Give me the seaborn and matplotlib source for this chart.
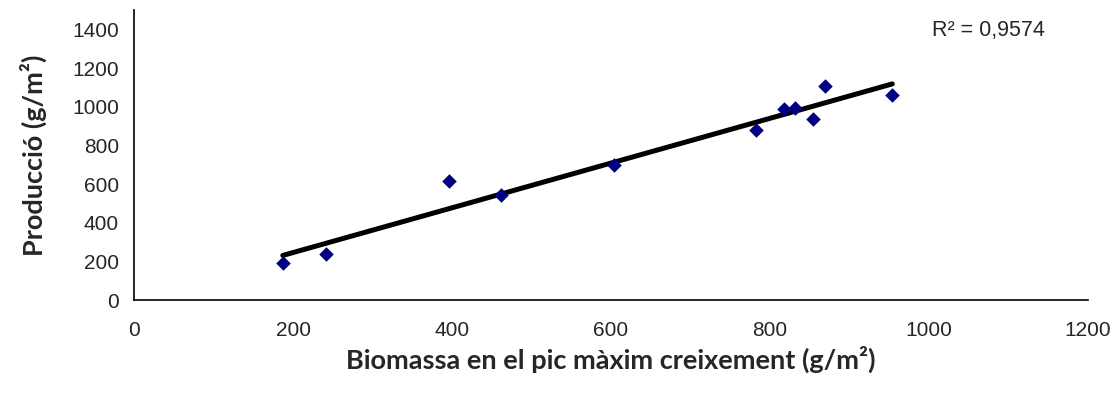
import pandas
import seaborn
import matplotlib.pyplot as plt

seaborn.set_style(style='white')

# biomass at peak growth (g/m2) vs production (g/m2)
biomassa = [187, 242, 396, 462, 604, 782, 818, 832, 854, 869, 954]
produccio = [190, 236, 616, 543, 698, 878, 990, 994, 937, 1109, 1063]
r2_label = 'R² = 0,9574'

df = pandas.DataFrame({'biomassa': biomassa, 'produccio': produccio})

fig = plt.figure(figsize=(11.18, 3.96), dpi=100)
ax = fig.add_axes([0.1200, 0.2424, 0.8530, 0.7323])

seaborn.regplot(data=df, x='biomassa', y='produccio', ci=None, scatter=False,
                line_kws={'color': 'black', 'linewidth': 3.6, 'solid_capstyle': 'round'},
                ax=ax)
seaborn.scatterplot(data=df, x='biomassa', y='produccio', marker='D', s=55,
                    color='#000080', linewidth=0, zorder=3, ax=ax)

ax.set_xlim(0, 1200)
ax.set_ylim(0, 1500)
ax.set_xticks(range(0, 1201, 200))
ax.set_yticks(range(0, 1401, 200))
ax.tick_params(axis='both', direction='out', length=5, width=1, color='#808080',
               labelsize=15)
ax.tick_params(axis='x', pad=10)
ax.tick_params(axis='y', pad=6)
for lab in ax.get_xticklabels() + ax.get_yticklabels():
    lab.set_fontfamily('Liberation Sans')
for side in ['top', 'right']:
    ax.spines[side].set_visible(False)
for side in ['left', 'bottom']:
    ax.spines[side].set_color('black')
    ax.spines[side].set_linewidth(1.2)

ax.set_xlabel('Biomassa en el pic màxim creixement (g/m²)', fontsize=19.5,
              fontweight='bold', family='Lato', labelpad=4)
ax.set_ylabel('Producció (g/m²)', fontsize=19.5, fontweight='bold',
              family='Lato', labelpad=18)
ax.text(1004, 1395, r2_label, ha='left', va='center', fontsize=15.5,
        family='Liberation Sans')

plt.savefig('out.png', dpi=100)
